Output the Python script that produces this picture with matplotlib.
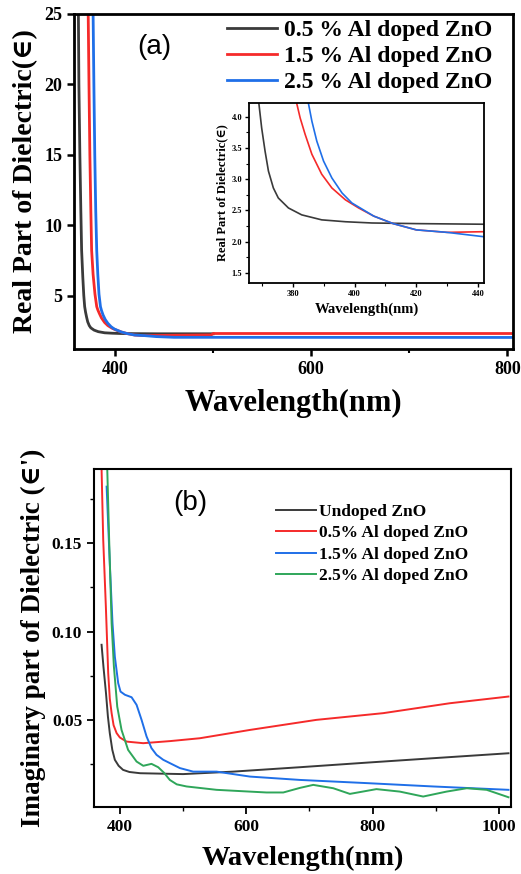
import matplotlib
matplotlib.use("Agg")
import matplotlib.pyplot as plt
from matplotlib.ticker import MultipleLocator

SERIF = ['Liberation Serif', 'DejaVu Serif']
SANS = ['Liberation Sans', 'DejaVu Sans']

# ---------------- Panel (a) data: real part of dielectric ----------------
a_labels = ["0.5 % Al doped ZnO", "1.5 % Al doped ZnO", "2.5 % Al doped ZnO"]
a_black_x = [362.5, 363, 364, 365, 365.8, 367, 368, 368.9, 369.8, 370.9, 372, 373.6, 375.2, 378.5, 382.8,
             389.3, 397, 405.6, 420, 442, 500]
a_black_y = [25, 20, 15, 11, 8.2, 6.3, 5.0, 4.21, 3.82, 3.45, 3.13, 2.86, 2.70, 2.54, 2.43,
             2.35, 2.32, 2.30, 2.29, 2.28, 2.28]
a_red_x = [372.5, 373.3, 374.2, 375.2, 376, 377.5, 379.4, 381.2, 382.3, 383.9, 386.1, 389.3, 392.6, 397,
           401.3, 406.2, 412.5, 420, 430, 441, 498, 500, 806]
a_red_y = [25, 20, 15, 11, 8.2, 6.5, 5.1, 4.21, 3.98, 3.72, 3.40, 3.08, 2.86, 2.67,
           2.54, 2.41, 2.29, 2.19, 2.15, 2.16, 2.2, 2.3, 2.3]
a_blue_x = [377.5, 378.3, 379.2, 380.2, 381.2, 382.3, 383.5, 385, 386.1, 387.7, 389.9, 392.6, 395.9, 399.1,
            403.5, 406.2, 412.5, 420, 430, 442, 460, 806]
a_blue_y = [25, 20, 15, 11, 8.2, 6.5, 5.1, 4.21, 3.93, 3.61, 3.29, 3.02, 2.78, 2.62,
            2.49, 2.41, 2.29, 2.19, 2.15, 2.08, 2.03, 2.02]

# ---------------- Panel (b) data: imaginary part of dielectric ----------------
b_labels = ["Undoped ZnO", "0.5% Al doped ZnO", "1.5% Al doped ZnO", "2.5% Al doped ZnO"]
b_black_x = [371, 374, 378, 381, 384, 388, 392, 398, 405, 415, 432, 500, 579, 685, 791, 896, 1015]
b_black_y = [0.0925, 0.080, 0.0651, 0.052, 0.0425, 0.033, 0.0274, 0.024, 0.0217, 0.0205, 0.0198, 0.0193,
             0.0207, 0.0232, 0.0258, 0.0283, 0.0311]
b_red_x = [371, 373.6, 377.8, 381.5, 384, 386.9, 390, 394.8, 400, 410.6, 436.9, 480, 526.6, 605.8, 711,
           816.8, 922, 1015]
b_red_y = [0.192, 0.152, 0.114, 0.0764, 0.062, 0.0538, 0.047, 0.0425, 0.040, 0.0377, 0.0368, 0.038,
           0.0396, 0.0443, 0.050, 0.0538, 0.0594, 0.0632]
b_blue_x = [379, 384, 388.3, 392, 397.3, 401, 408, 418.5, 426.4, 434.3, 442.2, 450, 458, 468.6, 482, 495,
            516, 553, 605.8, 685, 790.6, 896, 1015]
b_blue_y = [0.182, 0.1387, 0.1047, 0.0858, 0.0708, 0.066, 0.0642, 0.0628, 0.0585, 0.050, 0.0406, 0.034,
            0.0302, 0.0274, 0.025, 0.0227, 0.0207, 0.0207, 0.0179, 0.0160, 0.0142, 0.0123, 0.0104]
b_green_x = [380, 383, 386.9, 390.5, 395.8, 402.6, 413, 426.4, 437, 450, 460.6, 470, 479, 490, 505.6, 553,
             600, 632, 658.6, 685, 706, 737.7, 764, 806, 843, 880, 917, 949, 980.5, 1015]
b_green_y = [0.192, 0.152, 0.1047, 0.0802, 0.0575, 0.0443, 0.033, 0.0264, 0.024, 0.0251, 0.0232, 0.020,
             0.016, 0.0135, 0.0123, 0.0104, 0.0095, 0.0089, 0.0089, 0.0115, 0.0132, 0.0113, 0.0081, 0.0108,
             0.0094, 0.0066, 0.0094, 0.0113, 0.0104, 0.0062]

C_BLACK = '#3a3a3a'
C_RED = '#f52a2a'
C_BLUE = '#1f6fe8'
C_GREEN = '#2fa65a'

fig = plt.figure(figsize=(5.21, 8.74), dpi=100)

# ---------------- Panel (a) ----------------
ax1 = fig.add_axes([0.142, 0.6007, 0.843, 0.3833])
ax1.plot(a_black_x, a_black_y, color=C_BLACK, lw=2, label=a_labels[0])
ax1.plot(a_red_x, a_red_y, color=C_RED, lw=2, label=a_labels[1])
ax1.plot(a_blue_x, a_blue_y, color=C_BLUE, lw=2, label=a_labels[2])
ax1.set_xlim(358, 806)
ax1.set_ylim(1.2, 25)
ax1.xaxis.set_major_locator(MultipleLocator(200))
ax1.xaxis.set_minor_locator(MultipleLocator(100))
ax1.set_yticks([5, 10, 15, 20, 25])
for s in ax1.spines.values():
    s.set_linewidth(2)
ax1.tick_params(which='major', direction='out', length=5, width=1.8, labelsize=13)
ax1.tick_params(which='minor', direction='out', length=3, width=1.5)
for t in ax1.get_xticklabels() + ax1.get_yticklabels():
    t.set_family(SERIF)
    t.set_fontweight('bold')
ax1.set_xlabel("Wavelength(nm)", family=SERIF, fontweight='bold', fontsize=22, labelpad=8)
ax1.set_ylabel("Real Part of Dielectric(\u2208)", family=SERIF, fontweight='bold', fontsize=20, labelpad=4)
ax1.text(0.145, 0.90, "(a)", transform=ax1.transAxes, family=SANS, fontsize=20, ha='left', va='center')
ax1.legend(loc='upper right', bbox_to_anchor=(0.985, 1.025), frameon=False,
           prop={'family': SERIF, 'weight': 'bold', 'size': 17},
           handlelength=2.1, handletextpad=0.3, labelspacing=0.18, borderaxespad=0.2)

# inset
axi = fig.add_axes([0.478, 0.6762, 0.451, 0.206])
axi.plot(a_black_x, a_black_y, color=C_BLACK, lw=1.2)
axi.plot(a_red_x, a_red_y, color=C_RED, lw=1.2)
axi.plot(a_blue_x, a_blue_y, color=C_BLUE, lw=1.2)
axi.set_xlim(365.7, 442)
axi.set_ylim(1.34, 4.22)
axi.set_xticks([380, 400, 420, 440])
axi.xaxis.set_minor_locator(MultipleLocator(10))
axi.set_yticks([1.5, 2.0, 2.5, 3.0, 3.5, 4.0])
axi.set_yticklabels(["1.5", "2.0", "2.5", "3.0", "3.5", "4.0"])
axi.yaxis.set_minor_locator(MultipleLocator(0.25))
for s in axi.spines.values():
    s.set_linewidth(1.3)
axi.tick_params(which='major', direction='out', length=3, width=1, labelsize=6, pad=2)
axi.tick_params(which='minor', direction='out', length=2, width=0.8)
for t in axi.get_xticklabels() + axi.get_yticklabels():
    t.set_family(SERIF)
    t.set_fontweight('bold')
axi.set_xlabel("Wavelength(nm)", family=SERIF, fontweight='bold', fontsize=10.5, labelpad=3)
axi.set_ylabel("Real Part of Dielectric(\u2208)", family=SERIF, fontweight='bold', fontsize=9, labelpad=2)

# ---------------- Panel (b) ----------------
ax2 = fig.add_axes([0.1804, 0.0767, 0.8004, 0.3867])
ax2.plot(b_black_x, b_black_y, color=C_BLACK, lw=1.4, label=b_labels[0])
ax2.plot(b_red_x, b_red_y, color=C_RED, lw=1.4, label=b_labels[1])
ax2.plot(b_blue_x, b_blue_y, color=C_BLUE, lw=1.4, label=b_labels[2])
ax2.plot(b_green_x, b_green_y, color=C_GREEN, lw=1.4, label=b_labels[3])
ax2.set_xlim(359, 1019)
ax2.set_ylim(0.0007, 0.192)
ax2.set_xticks([400, 600, 800, 1000])
ax2.xaxis.set_minor_locator(MultipleLocator(100))
ax2.set_yticks([0.05, 0.10, 0.15])
ax2.set_yticklabels(["0.05", "0.10", "0.15"])
ax2.yaxis.set_minor_locator(MultipleLocator(0.025))
for s in ax2.spines.values():
    s.set_linewidth(1.5)
ax2.tick_params(which='major', direction='out', length=5, width=1.3, labelsize=12.5)
ax2.tick_params(which='minor', direction='out', length=3, width=1)
for t in ax2.get_xticklabels() + ax2.get_yticklabels():
    t.set_family(SERIF)
    t.set_fontweight('bold')
ax2.set_xlabel("Wavelength(nm)", family=SERIF, fontweight='bold', fontsize=20.5, labelpad=8)
ax2.set_ylabel("Imaginary part of Dielectric (\u2208')", family=SERIF, fontweight='bold', fontsize=19.5, labelpad=4)
ax2.text(0.19, 0.90, "(b)", transform=ax2.transAxes, family=SANS, fontsize=20, ha='left', va='center')
ax2.legend(loc='upper left', bbox_to_anchor=(0.42, 0.917), frameon=False,
           prop={'family': SERIF, 'weight': 'bold', 'size': 12.5},
           handlelength=2.3, handletextpad=0.15, labelspacing=0.3, borderaxespad=0.0)

fig.savefig("out.png", dpi=100)
